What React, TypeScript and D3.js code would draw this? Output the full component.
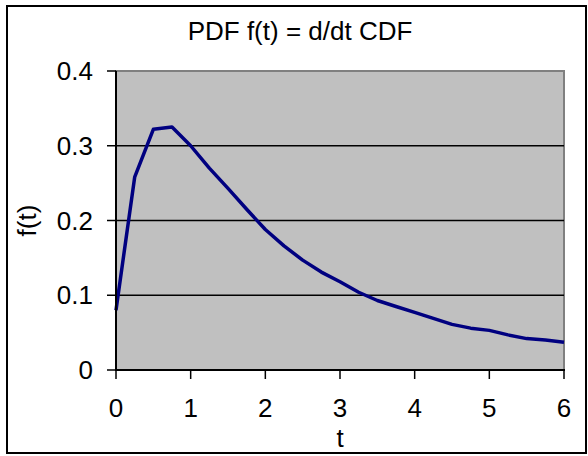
import React from "react";
import * as d3 from "d3";

// values
const tValues = [0, 0.25, 0.5, 0.75, 1, 1.25, 1.5, 1.75, 2, 2.25, 2.5, 2.75, 3, 3.25, 3.5, 3.75, 4, 4.25, 4.5, 4.75, 5, 5.25, 5.5, 5.75, 6];
const fValues = [0.08, 0.258, 0.322, 0.325, 0.3, 0.27, 0.243, 0.215, 0.188, 0.166, 0.147, 0.131, 0.118, 0.104, 0.093, 0.085, 0.077, 0.069, 0.061, 0.056, 0.053, 0.047, 0.042, 0.04, 0.037];
const xTicks = [0, 1, 2, 3, 4, 5, 6];
const yTicks = [0, 0.1, 0.2, 0.3, 0.4];

const title = "PDF f(t) = d/dt CDF";
const xLabel = "t";
const yLabel = "f(t)";

const W = 588;
const H = 456;
const plot = { left: 116, right: 564, top: 71, bottom: 370 };
const font = "'Liberation Sans', Arial, sans-serif";
const fs = 26;

export default function App() {
  const x = d3.scaleLinear().domain([0, 6]).range([plot.left, plot.right]);
  const y = d3.scaleLinear().domain([0, 0.4]).range([plot.bottom, plot.top]);

  const line = d3
    .line<number>()
    .x((_, i) => x(tValues[i]))
    .y((d) => y(d));

  return (
    <div style={{ position: "fixed", left: 0, top: 0 }}>
      <svg width={W} height={H} style={{ display: "block", background: "#fff" }} fontFamily={font}>
        {/* chart frame */}
        <rect x={7} y={6} width={W - 9} height={H - 9} fill="#fff" stroke="#000" strokeWidth={2} />

        <text x={300} y={40} textAnchor="middle" fontSize={fs} fill="#000">
          {title}
        </text>

        <rect
          x={plot.left}
          y={plot.top}
          width={plot.right - plot.left}
          height={plot.bottom - plot.top}
          fill="#c0c0c0"
          stroke="#808080"
          strokeWidth={2}
        />

        {yTicks
          .filter((v) => v > 0 && v < 0.4)
          .map((v) => (
            <line key={"g" + v} x1={plot.left} x2={plot.right} y1={y(v)} y2={y(v)} stroke="#000" strokeWidth={1.5} />
          ))}

        <path d={line(fValues) || ""} fill="none" stroke="#000080" strokeWidth={3.5} strokeLinejoin="round" />

        {/* axes */}
        <line x1={plot.left} x2={plot.left} y1={plot.top} y2={plot.bottom + 1} stroke="#000" strokeWidth={2} />
        <line x1={plot.left} x2={plot.right + 1} y1={plot.bottom} y2={plot.bottom} stroke="#000" strokeWidth={2} />

        {yTicks.map((v) => (
          <g key={"y" + v}>
            <line x1={plot.left - 9} x2={plot.left} y1={y(v)} y2={y(v)} stroke="#000" strokeWidth={1.5} />
            <text x={93} y={y(v)} dy="0.35em" textAnchor="end" fontSize={fs} fill="#000">
              {v === 0 ? "0" : d3.format(".1f")(v)}
            </text>
          </g>
        ))}

        {xTicks.map((v) => (
          <g key={"x" + v}>
            <line x1={x(v)} x2={x(v)} y1={plot.bottom} y2={plot.bottom + 9} stroke="#000" strokeWidth={1.5} />
            <text x={x(v)} y={408} dy="0.35em" textAnchor="middle" fontSize={fs} fill="#000">
              {v}
            </text>
          </g>
        ))}

        <text x={x(3)} y={438} dy="0.35em" textAnchor="middle" fontSize={fs} fill="#000">
          {xLabel}
        </text>
        <text
          transform={`translate(27, ${(plot.top + plot.bottom) / 2}) rotate(-90)`}
          dy="0.35em"
          textAnchor="middle"
          fontSize={fs}
          fill="#000"
        >
          {yLabel}
        </text>
      </svg>
    </div>
  );
}
